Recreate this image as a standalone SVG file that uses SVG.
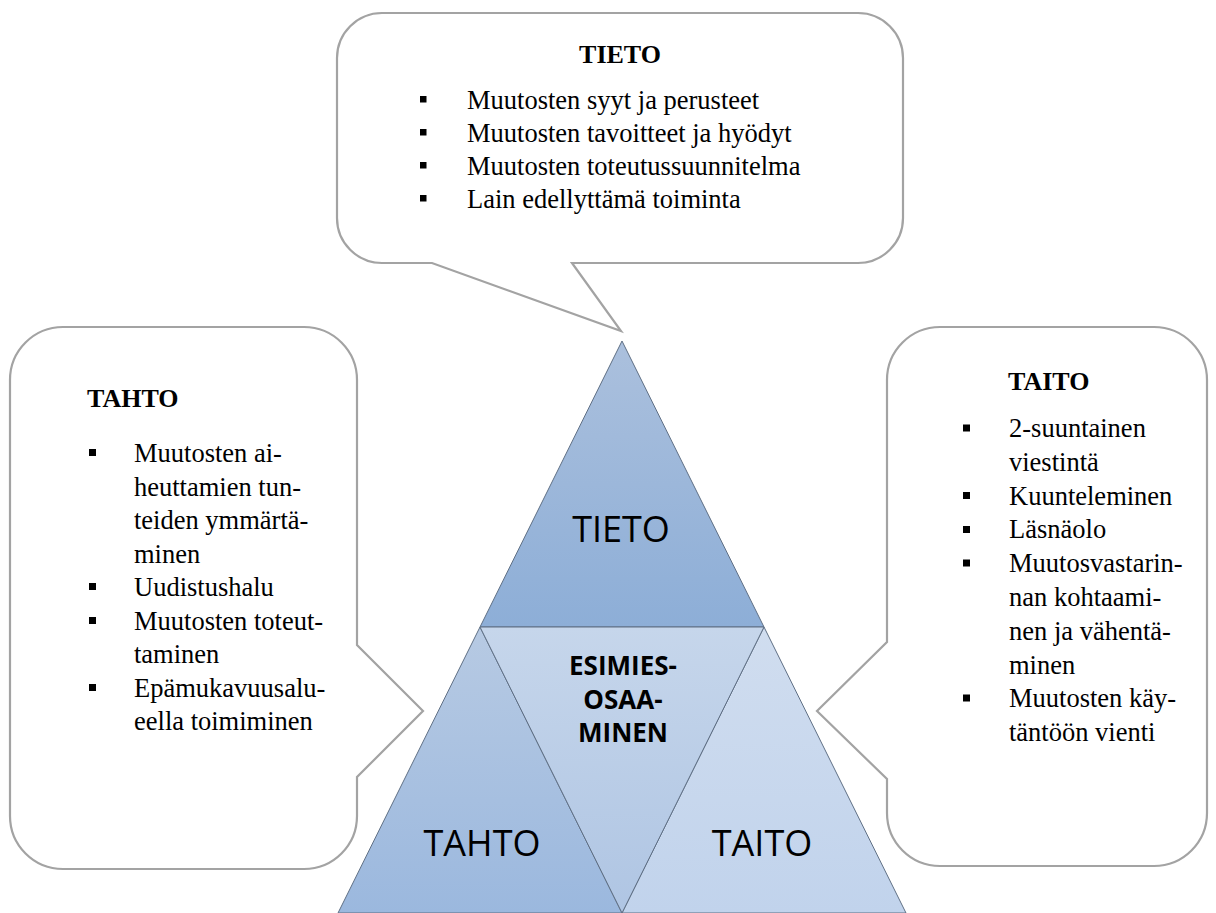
<svg xmlns="http://www.w3.org/2000/svg" width="1216" height="913" viewBox="0 0 1216 913">
<defs>
<linearGradient id="gTop" x1="0" y1="0" x2="0" y2="1"><stop offset="0" stop-color="#abc0dd"/><stop offset="1" stop-color="#8daed7"/></linearGradient>
<linearGradient id="gLeft" x1="0" y1="0" x2="0" y2="1"><stop offset="0" stop-color="#b7cae3"/><stop offset="1" stop-color="#9bb8de"/></linearGradient>
<linearGradient id="gMid" x1="0" y1="0" x2="0" y2="1"><stop offset="0" stop-color="#c6d6eb"/><stop offset="1" stop-color="#afc5e3"/></linearGradient>
<linearGradient id="gRight" x1="0" y1="0" x2="0" y2="1"><stop offset="0" stop-color="#d0ddef"/><stop offset="1" stop-color="#c1d3ec"/></linearGradient>
</defs>
<style>
.call{fill:#fff;stroke:#a3a3a3;stroke-width:2.2;stroke-linejoin:miter}
.tri{stroke:#5f6f84;stroke-width:1}
.h{font-family:"Liberation Serif","Times New Roman",serif;font-weight:bold;font-size:26px;fill:#000}
.t{font-family:"Liberation Serif","Times New Roman",serif;font-size:26.5px;fill:#000}
.b{fill:#000}
.big{font-family:"Open Sans","Liberation Sans",sans-serif;font-size:36px;fill:#000;text-anchor:middle}
.mid{font-family:"Open Sans","Liberation Sans",sans-serif;font-weight:bold;font-size:26px;fill:#000;text-anchor:middle}
</style>
<rect width="1216" height="913" fill="#fff"/>

<g id="callout-tieto">
<path class="call" d="M382,13 H858 A45,45 0 0 1 903,58 V218 A45,45 0 0 1 858,263 H572 L621,331 L432,263 H382 A45,45 0 0 1 337,218 V58 A45,45 0 0 1 382,13 Z"/>
<text class="h" x="620" y="63" text-anchor="middle">TIETO</text>
<rect class="b" x="420" y="96" width="6.5" height="6.5"/>
<rect class="b" x="420" y="129" width="6.5" height="6.5"/>
<rect class="b" x="420" y="162" width="6.5" height="6.5"/>
<rect class="b" x="420" y="195" width="6.5" height="6.5"/>
<text class="t" x="467" y="109">Muutosten syyt ja perusteet</text>
<text class="t" x="467" y="142">Muutosten tavoitteet ja hyödyt</text>
<text class="t" x="467" y="175">Muutosten toteutussuunnitelma</text>
<text class="t" x="467" y="208">Lain edellyttämä toiminta</text>
</g>

<g id="callout-tahto">
<path class="call" d="M63,327 H304 A53,53 0 0 1 357,380 V645 L423,711 L357,777 V816 A53,53 0 0 1 304,869 H63 A53,53 0 0 1 10,816 V380 A53,53 0 0 1 63,327 Z"/>
<text class="h" x="87" y="407">TAHTO</text>
<rect class="b" x="89" y="449" width="7" height="7"/>
<rect class="b" x="89" y="583" width="7" height="7"/>
<rect class="b" x="89" y="617" width="7" height="7"/>
<rect class="b" x="89" y="684" width="7" height="7"/>
<text class="t" x="134" y="462">Muutosten ai-</text>
<text class="t" x="134" y="495.5">heuttamien tun-</text>
<text class="t" x="134" y="529">teiden ymmärtä-</text>
<text class="t" x="134" y="562.5">minen</text>
<text class="t" x="134" y="596">Uudistushalu</text>
<text class="t" x="134" y="629.5">Muutosten toteut-</text>
<text class="t" x="134" y="663">taminen</text>
<text class="t" x="134" y="696.5">Epämukavuusalu-</text>
<text class="t" x="134" y="730">eella toimiminen</text>
</g>

<g id="callout-taito">
<path class="call" d="M940,327 H1154 A53,53 0 0 1 1207,380 V813 A53,53 0 0 1 1154,866 H940 A53,53 0 0 1 887,813 V779 L817,711 L887,642 V380 A53,53 0 0 1 940,327 Z"/>
<text class="h" x="1008" y="390">TAITO</text>
<rect class="b" x="963" y="424.5" width="7" height="7"/>
<rect class="b" x="963" y="492" width="7" height="7"/>
<rect class="b" x="963" y="526" width="7" height="7"/>
<rect class="b" x="963" y="559.5" width="7" height="7"/>
<rect class="b" x="963" y="694.5" width="7" height="7"/>
<text class="t" x="1009" y="437">2-suuntainen</text>
<text class="t" x="1009" y="471">viestintä</text>
<text class="t" x="1009" y="505">Kuunteleminen</text>
<text class="t" x="1009" y="538">Läsnäolo</text>
<text class="t" x="1009" y="572">Muutosvastarin-</text>
<text class="t" x="1009" y="606">nan kohtaami-</text>
<text class="t" x="1009" y="640">nen ja vähentä-</text>
<text class="t" x="1009" y="674">minen</text>
<text class="t" x="1009" y="707">Muutosten käy-</text>
<text class="t" x="1009" y="741">täntöön vienti</text>
</g>

<g id="tri-tieto">
<polygon class="tri" fill="url(#gTop)" points="622,341 764,627 480,627"/>
<text class="big" x="621" y="542">TIETO</text>
</g>
<g id="tri-tahto">
<polygon class="tri" fill="url(#gLeft)" points="480,627 622,913 338,913"/>
<text class="big" x="482" y="856">TAHTO</text>
</g>
<g id="tri-taito">
<polygon class="tri" fill="url(#gRight)" points="764,627 906,913 622,913"/>
<text class="big" x="762" y="856">TAITO</text>
</g>
<g id="tri-esimies">
<polygon class="tri" fill="url(#gMid)" points="480,627 764,627 622,913"/>
<text class="mid" x="623" y="675">ESIMIES-</text>
<text class="mid" x="623" y="708.5">OSAA-</text>
<text class="mid" x="623" y="742">MINEN</text>
</g>
<g id="connectors"/>
</svg>
